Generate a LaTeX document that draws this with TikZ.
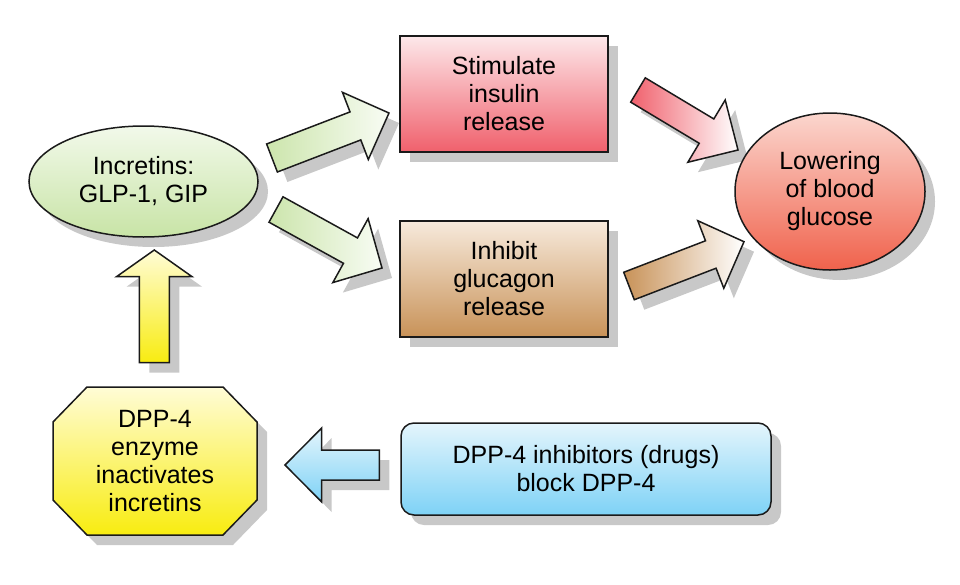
\documentclass[tikz,border=0pt]{standalone}
\usepackage{fontspec}
\setmainfont{Liberation Sans}
\usetikzlibrary{calc,shapes.geometric,shadows}
\definecolor{grnT}{RGB}{242,249,234}
\definecolor{grnB}{RGB}{200,228,166}
\definecolor{grnA}{RGB}{204,229,172}
\definecolor{grnW}{RGB}{248,252,244}
\definecolor{redT}{RGB}{253,232,234}
\definecolor{redB}{RGB}{240,96,108}
\definecolor{brnT}{RGB}{247,234,220}
\definecolor{brnB}{RGB}{200,146,88}
\definecolor{lowT}{RGB}{251,214,206}
\definecolor{lowB}{RGB}{240,98,76}
\definecolor{yelT}{RGB}{255,252,214}
\definecolor{yelB}{RGB}{248,236,16}
\definecolor{bluT}{RGB}{228,245,252}
\definecolor{bluB}{RGB}{126,210,246}
\definecolor{shd}{RGB}{200,200,200}
\definecolor{ink}{RGB}{26,26,26}
\tikzset{
  shad/.style={general shadow={fill=shd, shadow xshift=10pt, shadow yshift=-10pt}},
  txt/.style={inner sep=0pt, align=center, font=\fontsize{25}{28}\selectfont},
  box/.style={txt, draw=ink, line width=1.5pt, shad},
  arrowbody/.style={draw=ink, line width=1.5pt, line join=miter, shad},
}
% #1 tail, #2 tip, #3 half shaft width, #4 half head width, #5 head length, #6 style
\newcommand\barrow[6]{%
  \coordinate (bb) at ($(#2)!#5!(#1)$);
  \path[arrowbody,#6] ($(#1)!#3!90:(#2)$) -- ($(bb)!#3!90:(#2)$) -- ($(bb)!#4!90:(#2)$)
    -- (#2) -- ($(bb)!#4!-90:(#2)$) -- ($(bb)!#3!-90:(#2)$) -- ($(#1)!#3!-90:(#2)$) -- cycle;
}
\begin{document}
\begin{tikzpicture}[x=1pt,y=-1pt]
\useasboundingbox (0,0) rectangle (960,584);

% arrows (drawn first)
\coordinate (a1t) at (272,158);   \coordinate (a1h) at (389,113);
\coordinate (a2t) at (276,209.5); \coordinate (a2h) at (382,268);
\coordinate (a3t) at (638,90);    \coordinate (a3h) at (738,150);
\coordinate (a4t) at (629,286);   \coordinate (a4h) at (744,241.7);
\coordinate (a5t) at (154.3,362.7); \coordinate (a5h) at (154.3,250);
\coordinate (a6t) at (379.3,465); \coordinate (a6h) at (285,465);

\barrow{a1t}{a1h}{15pt}{36pt}{36pt}{left color=grnA, right color=grnW}
\barrow{a2t}{a2h}{14.5pt}{36.5pt}{36pt}{left color=grnA, right color=grnW}
\barrow{a3t}{a3h}{14.2pt}{36.3pt}{36.7pt}{left color=redB, right color=white}
\barrow{a4t}{a4h}{14.7pt}{36.2pt}{35.6pt}{left color=brnB, right color=white}
\barrow{a5t}{a5h}{15pt}{37.8pt}{26.7pt}{top color=yelT, bottom color=yelB}
\barrow{a6t}{a6h}{15pt}{37pt}{36.7pt}{top color=bluT, bottom color=bluB}

\node[box, ellipse, minimum width=229pt, minimum height=111pt,
  top color=grnT, bottom color=grnB] (incr) at (143.5,181.5) {Incretins:\\GLP-1, GIP};
\node[box, rectangle, minimum width=208pt, minimum height=116pt,
  top color=redT, bottom color=redB] (ins) at (504,94) {Stimulate\\insulin\\release};
\node[box, rectangle, minimum width=208pt, minimum height=116pt,
  top color=brnT, bottom color=brnB] (glu) at (504,279) {Inhibit\\glucagon\\release};
\node[box, ellipse, minimum width=190pt, minimum height=157pt,
  top color=lowT, bottom color=lowB] (low) at (830,191.5) {Lowering\\of blood\\glucose};
\node[box, rectangle, rounded corners=13pt, minimum width=370pt, minimum height=92pt,
  top color=bluT, bottom color=bluB] (inh) at (586,469) {DPP-4 inhibitors (drugs)\\block DPP-4};

% octagon with its text node
\coordinate (oc) at (155,461);
\path[arrowbody, top color=yelT, bottom color=yelB]
  ($(oc)+(-68,-74)$) -- ($(oc)+(68,-74)$) -- ($(oc)+(102,-39)$) -- ($(oc)+(102,39)$)
  -- ($(oc)+(68,74)$) -- ($(oc)+(-68,74)$) -- ($(oc)+(-102,39)$) -- ($(oc)+(-102,-39)$) -- cycle;
\node[txt] (dpp) at (oc) {DPP-4\\enzyme\\inactivates\\incretins};
\end{tikzpicture}
\end{document}
